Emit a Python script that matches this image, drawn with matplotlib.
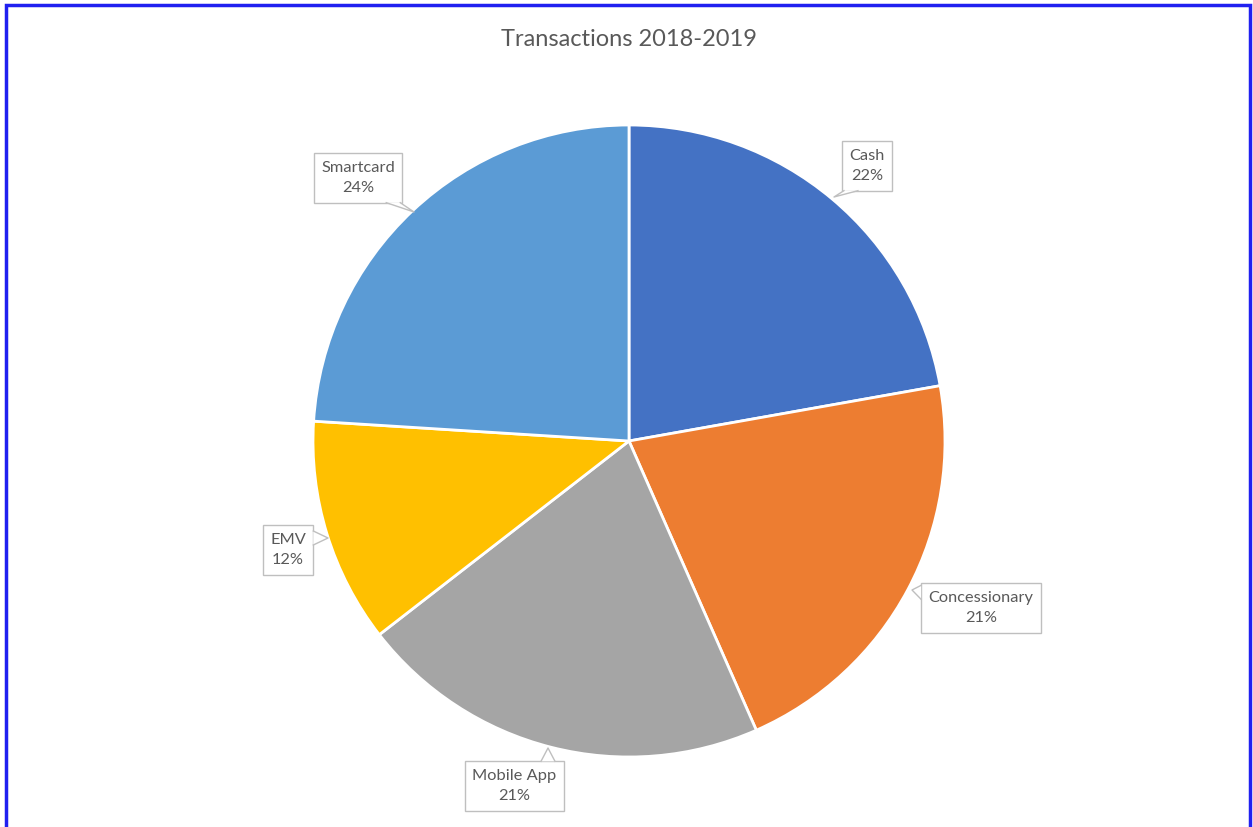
import matplotlib.pyplot as plt
from matplotlib.patches import Rectangle, Polygon

plt.rcParams['font.family'] = ['Lato', 'DejaVu Sans']

# share of transactions (clockwise from 12 o'clock)
categories = ['Cash', 'Concessionary', 'Mobile App', 'EMV', 'Smartcard']
values = [22.2, 21.2, 21.1, 11.5, 24.0]
pct_labels = ['22%', '21%', '21%', '12%', '24%']
colors = ['#4472C4', '#ED7D31', '#A5A5A5', '#FFC000', '#5B9BD5']

# callout box centres and pointer tips, pixels from top-left
box_pos = [(867, 166), (981, 608), (514, 786), (288, 550), (358, 178)]
tip_pos = [(834, 197), (912, 590), (548, 748), (328, 538), (414, 212)]

W, H = 1253, 827
fig = plt.figure(figsize=(W / 100, H / 100), dpi=100)
ax = fig.add_axes([0, 0, 1, 1])

wedges, _ = ax.pie(values, colors=colors, startangle=90, counterclock=False,
                   center=(629, H - 441), radius=316, frame=True,
                   wedgeprops=dict(edgecolor='white', linewidth=2))
ax.set_xlim(0, W)
ax.set_ylim(0, H)
ax.axis('off')

texts = []
for i, name in enumerate(categories):
    bx, by = box_pos[i]
    t = ax.text(bx, H - by, name + '\n' + pct_labels[i], ha='center', va='center',
                fontsize=11.8, color='#595959', linespacing=1.6, zorder=5,
                bbox=dict(boxstyle='square,pad=0.45', fc='white', ec='#BFBFBF', lw=1))
    texts.append(t)

fig.canvas.draw()
grey = '#BFBFBF'
half = 7
for t, (tx, ty) in zip(texts, tip_pos):
    ext = t.get_bbox_patch().get_window_extent()
    x0, x1, y0, y1 = ext.x0, ext.x1, ext.y0, ext.y1
    tip = (tx, H - ty)
    if tip[1] < y0 or tip[1] > y1:
        yy = y0 if tip[1] < y0 else y1
        cx = min(max(tip[0], x0 + half + 2), x1 - half - 2)
        a, b = (cx - half, yy), (cx + half, yy)
    else:
        xx = x0 if tip[0] < x0 else x1
        cy = min(max(tip[1], y0 + half + 2), y1 - half - 2)
        a, b = (xx, cy - half), (xx, cy + half)
    ax.add_patch(Polygon([a, tip, b], closed=True, fc='white', ec='none', zorder=6))
    ax.plot([a[0], tip[0], b[0]], [a[1], tip[1], b[1]], color=grey, lw=1, zorder=7)

ax.text(629, H - 40, 'Transactions 2018-2019', ha='center', va='center',
        fontsize=17, color='#595959')

# blue outer frame
fig.patches.append(Rectangle((6 / W, -0.01), 1244 / W, 1 - 5 / H + 0.01,
                             transform=fig.transFigure, fill=False,
                             ec='#2020F0', lw=2.5))

fig.savefig('out.png', dpi=100)
